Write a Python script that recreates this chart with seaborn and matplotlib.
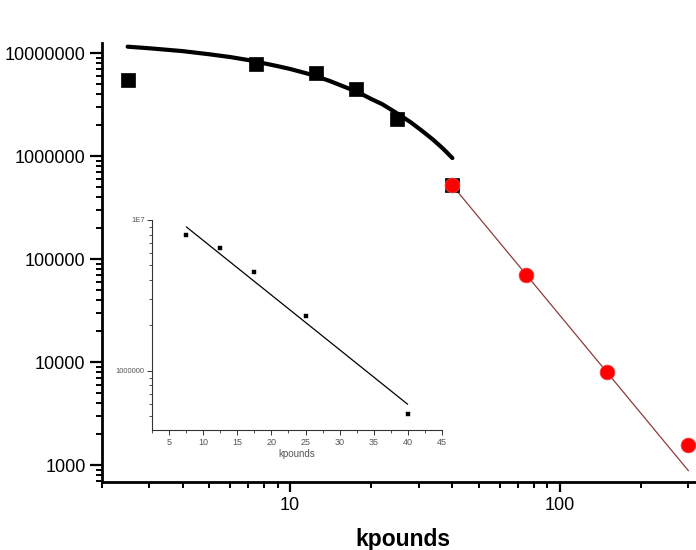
import matplotlib
matplotlib.use("Agg")
import matplotlib.pyplot as plt
from matplotlib.ticker import FixedLocator, FixedFormatter, LogLocator, NullFormatter, MultipleLocator
import pandas as pd
import seaborn as sns

# Measured fatigue life (cycles) against load (kpounds)
load_sq = [2.5, 7.5, 12.5, 17.5, 25, 40]
cycles_sq = [5.5e6, 7.9e6, 6.5e6, 4.5e6, 2.3e6, 5.2e5]
load_red = [40, 75, 150, 300]
cycles_red = [5.2e5, 7.0e4, 8.1e3, 1.55e3]

# Exponential fit curve over the low-load range
expfit_load = [2.5, 3, 4, 5, 6, 7, 8, 9, 10, 12, 14, 16, 18, 20, 22, 25, 28, 31, 34, 37, 40]
expfit_cycles = [1.16e7, 1.12e7, 1.05e7, 9.8e6, 9.2e6, 8.6e6, 8.0e6, 7.5e6, 7.05e6,
                 6.2e6, 5.4e6, 4.7e6, 4.15e6, 3.6e6, 3.2e6, 2.6e6, 2.14e6, 1.75e6,
                 1.44e6, 1.18e6, 9.6e5]

# Power-law fit over the high-load range
powfit_load = [40, 300]
powfit_cycles = [5.2e5, 880]

# Semilog fit shown in the inset
inset_load = [7.5, 12.5, 17.5, 25, 40]
inset_cycles = [7.9e6, 6.5e6, 4.5e6, 2.3e6, 5.2e5]
inset_fit_load = [7.5, 40]
inset_fit_cycles = [9.0e6, 6.0e5]

y_ticks = [1e3, 1e4, 1e5, 1e6, 1e7]
y_tick_labels = ["1000", "10000", "100000", "1000000", "10000000"]
x_ticks = [10, 100]
x_tick_labels = ["10", "100"]
inset_x_ticks = [5, 10, 15, 20, 25, 30, 35, 40, 45]
inset_y_ticks = [1e6, 1e7]
inset_y_tick_labels = ["1000000", "1E7"]

sns.set_style("white")
plt.rcParams["font.family"] = ["Liberation Sans", "DejaVu Sans"]

fig = plt.figure(figsize=(6.96, 5.5), dpi=100)
ax = fig.add_axes([101.5 / 696, 68.5 / 550, 594.5 / 696, 438.8 / 550])

sq_df = pd.DataFrame({"load": load_sq, "cycles": cycles_sq})
red_df = pd.DataFrame({"load": load_red, "cycles": cycles_red})
exp_df = pd.DataFrame({"load": expfit_load, "cycles": expfit_cycles})
pow_df = pd.DataFrame({"load": powfit_load, "cycles": powfit_cycles})

sns.lineplot(data=exp_df, x="load", y="cycles", ax=ax, color="black", lw=3.0,
             sort=False, estimator=None, zorder=2)
sns.lineplot(data=pow_df, x="load", y="cycles", ax=ax, color="#8e3b3b", lw=0.9,
             sort=False, estimator=None, zorder=2)
sns.scatterplot(data=sq_df, x="load", y="cycles", ax=ax, marker="s", s=92,
                color="black", edgecolor="black", linewidth=0.5, zorder=3, legend=False)
sns.scatterplot(data=red_df, x="load", y="cycles", ax=ax, marker="o", s=112,
                color="#ff0000", edgecolor="#f04040", linewidth=0.6, zorder=4, legend=False)

ax.set_xscale("log")
ax.set_yscale("log")
ax.set_xlim(2, 320)
ax.set_ylim(692, 1.268e7)

for side in ("top", "right"):
    ax.spines[side].set_visible(False)
for side in ("left", "bottom"):
    ax.spines[side].set_linewidth(2.0)
    ax.spines[side].set_color("black")

ax.xaxis.set_major_locator(FixedLocator(x_ticks))
ax.xaxis.set_major_formatter(FixedFormatter(x_tick_labels))
ax.xaxis.set_minor_locator(LogLocator(base=10, subs=range(2, 10)))
ax.xaxis.set_minor_formatter(NullFormatter())
ax.yaxis.set_major_locator(FixedLocator(y_ticks))
ax.yaxis.set_major_formatter(FixedFormatter(y_tick_labels))
ax.yaxis.set_minor_locator(LogLocator(base=10, subs=range(2, 10)))
ax.yaxis.set_minor_formatter(NullFormatter())

ax.tick_params(which="both", bottom=True, left=True, top=False, right=False)
ax.tick_params(which="major", direction="out", length=7, width=1.6, labelsize=13,
               colors="black", pad=3)
ax.tick_params(which="minor", direction="out", length=4, width=1.4, colors="black")
ax.tick_params(axis="y", which="major", length=8.5, pad=3)
ax.tick_params(axis="x", which="major", pad=4)

ax.set_xlabel("kpounds", fontsize=16.5, fontweight="bold", color="black")
ax.xaxis.set_label_coords(0.507, -0.106)
ax.set_ylabel("")

# Inset: semilog view of the low-load data
ins = fig.add_axes([152.3 / 696, 120 / 550, 289.4 / 696, 210 / 550])
ins.set_facecolor("none")
in_df = pd.DataFrame({"load": inset_load, "cycles": inset_cycles})
in_fit_df = pd.DataFrame({"load": inset_fit_load, "cycles": inset_fit_cycles})
sns.lineplot(data=in_fit_df, x="load", y="cycles", ax=ins, color="black", lw=0.9,
             sort=False, estimator=None)
sns.scatterplot(data=in_df, x="load", y="cycles", ax=ins, marker="s", s=11,
                color="black", edgecolor="black", linewidth=0.3, legend=False)
ins.set_yscale("log")
ins.set_xlim(2.5, 45)
ins.set_ylim(4.05e5, 1e7)
for side in ("top", "right"):
    ins.spines[side].set_visible(False)
for side in ("left", "bottom"):
    ins.spines[side].set_linewidth(0.8)
    ins.spines[side].set_color("#333333")
ins.xaxis.set_major_locator(FixedLocator(inset_x_ticks))
ins.xaxis.set_minor_locator(MultipleLocator(2.5))
ins.yaxis.set_major_locator(FixedLocator(inset_y_ticks))
ins.yaxis.set_major_formatter(FixedFormatter(inset_y_tick_labels))
ins.yaxis.set_minor_locator(LogLocator(base=10, subs=range(2, 10)))
ins.yaxis.set_minor_formatter(NullFormatter())
ins.tick_params(which="both", bottom=True, left=True, top=False, right=False)
ins.tick_params(which="major", direction="out", length=3.5, width=0.7,
                colors="#333333", labelcolor="#555555", pad=2)
ins.tick_params(which="minor", direction="out", length=2, width=0.6, colors="#333333")
ins.tick_params(axis="x", labelsize=6.5)
ins.tick_params(axis="y", labelsize=5.5)
ins.set_xlabel("kpounds", fontsize=7, color="#555555", labelpad=2)
ins.set_ylabel("")

fig.savefig("out.png", dpi=100)
